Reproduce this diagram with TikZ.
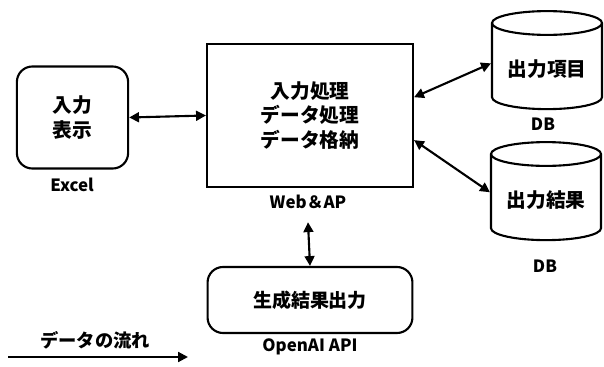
\documentclass[tikz,border=0pt]{standalone}
\usepackage{fontspec}
\setmainfont{Noto Sans CJK JP}
\usepackage{tikz}
\usetikzlibrary{arrows.meta,positioning,calc,shapes.geometric}

\begin{document}
\begin{tikzpicture}[x=0.025cm,y=-0.025cm,
      box/.style={draw=black,line width=1.5pt,align=center,font=\fontsize{14}{17.5}\selectfont\bfseries},
      rbox/.style={box,rounded corners=11pt},
      dbnode/.style={cylinder,shape border rotate=90,aspect=0.27,draw=black,line width=1.5pt,
        minimum width=2.75cm,minimum height=2.45cm,font=\fontsize{14}{17}\selectfont\bfseries},
      lbl/.style={font=\fontsize{12}{14}\selectfont\bfseries},
      flow/.style={line width=1.5pt,{Triangle[length=7pt,width=7pt]}-{Triangle[length=7pt,width=7pt]}}]
    \useasboundingbox (0,0) rectangle (604,367);
    % boxes
    \node[rbox,minimum width=2.78cm,minimum height=2.55cm] (excel) at (72.5,117.5) {入力\\表示};
    \node[box,minimum width=5.15cm,minimum height=3.58cm] (web) at (310,115.5) {入力処理\\データ処理\\データ格納};
    \node[dbnode] (items) at (547,69) {出力項目};
    \node[dbnode] (results) at (546,200) {出力結果};
    \node[rbox,minimum width=5.12cm,minimum height=1.65cm,font=\fontsize{13.5}{16}\selectfont\bfseries] (api) at (310,300) {生成結果出力};
    % labels
    \node[lbl] (excellbl) at (72,185) {Excel};
    \node[lbl] (weblbl) at (308,202) {Web＆AP};
    \node[lbl] (itemslbl) at (543,124) {DB};
    \node[lbl] (resultslbl) at (545,266) {DB};
    \node[lbl] (apilbl) at (310,347) {OpenAI API};
    % connectors
    \draw[flow] (excel.east) -- (web.west);
    \draw[flow] ([yshift=13pt]web.east) -- ([yshift=4pt]items.west);
    \draw[flow] ([yshift=-17.5pt]web.east) -- ([yshift=5.5pt]results.west);
    \draw[flow] ([yshift=-6pt]weblbl.south) -- (api.north);
    % legend
    \node[font=\fontsize{13}{15}\selectfont\bfseries] (legend) at (95,340) {データの流れ};
    \coordinate (legA) at (8,357);
    \coordinate (legB) at (188,357);
    \draw[line width=1.5pt,-{Triangle[length=7pt,width=7pt]}] (legA) -- (legB);
  \end{tikzpicture}
\end{document}
